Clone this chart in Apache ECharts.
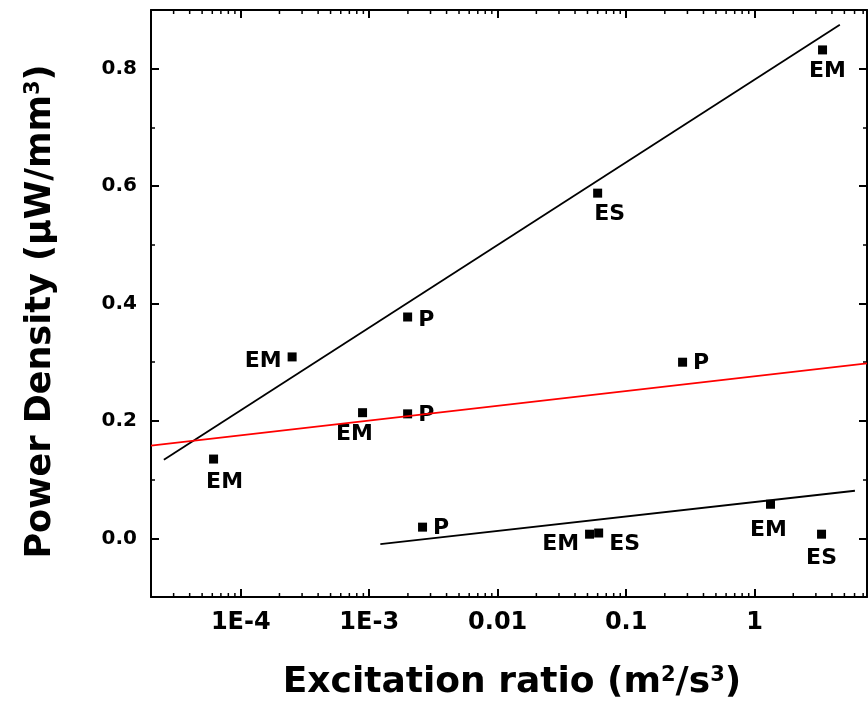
<!DOCTYPE html>
<html>
<head>
<meta charset="utf-8">
<script src="https://cdn.jsdelivr.net/npm/echarts@6/dist/echarts.min.js"></script>
<style>
  html, body { margin: 0; background: #fff; }
  #main { width: 868px; height: 706px; }
</style>
</head>
<body>
<div id="main"></div>
<script>
// measured points: excitation ratio, power density, tag
const ptX = [6.14e-5, 2.51e-4, 8.87e-4, 1.99e-3, 1.99e-3, 2.6e-3, 0.275, 0.06, 3.38, 0.0519, 0.0611, 1.33, 3.32];
const ptY = [0.135, 0.309, 0.214, 0.377, 0.212, 0.019, 0.300, 0.588, 0.832, 0.007, 0.009, 0.058, 0.007];
const ptTag = ['EM', 'EM', 'EM', 'P', 'P', 'P', 'P', 'ES', 'EM', 'EM', 'ES', 'EM', 'ES'];

// fitted lines (two ends each)
const upperLine = [[2.52e-5, 0.134], [4.61, 0.875]];
const redLine = [[2e-5, 0.158], [7.5, 0.298]];
const lowerLine = [[1.22e-3, -0.010], [6.04, 0.081]];

const xTickValues = [1e-4, 1e-3, 0.01, 0.1, 1];
const xTickLabels = ['1E-4', '1E-3', '0.01', '0.1', '1'];

const X_MIN = 2e-5, X_MAX = 7.5;
const Y_MIN = -0.1, Y_MAX = 0.9;

// where each tag sits next to its point
const tagPlace = [
  ['bottom', [11, 2]], ['left', [0, 4]], ['bottom', [-8, 0]], ['right', [0, 3]],
  ['right', [0, 1]], ['right', [0, 1]], ['right', [0, 1]], ['bottom', [12, 0]],
  ['bottom', [5, 0]], ['left', [0, 10]], ['right', [0, 11]], ['bottom', [-2, 5]],
  ['bottom', [0, 3]]
];

// log minor ticks 2..9 per decade
const xMinor = [];
for (let k = -5; k <= 0; k++) {
  for (let m = 2; m <= 9; m++) {
    const v = m * Math.pow(10, k);
    if (v > X_MIN && v < X_MAX) xMinor.push(v);
  }
}

const FONT = 'DejaVu Sans';
const black = '#000';

function xLabel(v) {
  for (let i = 0; i < xTickValues.length; i++) {
    if (Math.abs(Math.log10(v) - Math.log10(xTickValues[i])) < 1e-6) return xTickLabels[i];
  }
  return '';
}

const points = ptX.map((x, i) => ({
  value: [x, ptY[i]],
  label: {
    show: true,
    formatter: ptTag[i],
    position: tagPlace[i][0],
    offset: tagPlace[i][1],
    distance: 6,
    fontFamily: FONT,
    fontWeight: 'bold',
    fontSize: 22,
    color: black
  }
}));

const axisLine = { show: true, onZero: false, lineStyle: { color: black, width: 2 } };
const supStyle = { fontFamily: FONT, fontWeight: 'bold', fontSize: 21, color: black, verticalAlign: 'top' };

let myChart = echarts.init(document.getElementById('main'));
myChart.setOption({
  animation: false,
  backgroundColor: '#fff',
  grid: { left: 151, right: 1, top: 10, bottom: 109, containLabel: false, outerBoundsMode: 'none' },
  xAxis: [
    {
      type: 'log',
      logBase: 10,
      min: X_MIN,
      max: X_MAX,
      position: 'bottom',
      name: 'Excitation ratio (m{sup|2}/s{sup|3})',
      nameLocation: 'middle',
      nameGap: 68,
      nameTextStyle: {
        fontFamily: FONT, fontWeight: 'bold', fontSize: 36, color: black,
        padding: [0, 0, 0, 6],
        rich: { sup: supStyle }
      },
      axisLine: axisLine,
      axisTick: { inside: true, length: 8, lineStyle: { color: black, width: 2 } },
      splitLine: { show: false },
      axisLabel: {
        showMinLabel: false, showMaxLabel: false,
        formatter: xLabel,
        margin: 14,
        fontFamily: FONT, fontWeight: 'bold', fontSize: 24, color: black
      }
    },
    {
      type: 'log',
      logBase: 10,
      min: X_MIN,
      max: X_MAX,
      position: 'top',
      axisLine: axisLine,
      axisTick: { inside: true, length: 8, lineStyle: { color: black, width: 2 } },
      splitLine: { show: false },
      axisLabel: { show: false }
    }
  ],
  yAxis: [
    {
      type: 'value',
      min: Y_MIN,
      max: Y_MAX,
      splitNumber: 5,
      position: 'left',
      name: 'Power Density (µW/mm{sup|3})',
      nameLocation: 'middle',
      nameGap: 93,
      nameTextStyle: {
        fontFamily: FONT, fontWeight: 'bold', fontSize: 35, color: black,
        padding: [0, 16, 0, 0],
        rich: { sup: supStyle }
      },
      axisLine: axisLine,
      axisTick: { inside: true, length: 8, lineStyle: { color: black, width: 2 } },
      minorTick: { show: true, splitNumber: 2, length: 4, lineStyle: { color: black, width: 1.5 } },
      splitLine: { show: false },
      axisLabel: {
        showMinLabel: false, showMaxLabel: false,
        formatter: v => v.toFixed(1),
        margin: 14,
        fontFamily: FONT, fontWeight: 'bold', fontSize: 20, color: black
      }
    },
    {
      type: 'value',
      min: Y_MIN,
      max: Y_MAX,
      splitNumber: 5,
      position: 'right',
      axisLine: axisLine,
      axisTick: { inside: true, length: 8, lineStyle: { color: black, width: 2 } },
      minorTick: { show: true, splitNumber: 2, length: 4, lineStyle: { color: black, width: 1.5 } },
      splitLine: { show: false },
      axisLabel: { show: false }
    }
  ],
  series: [
    {
      type: 'custom',
      silent: true,
      clip: false,
      data: xMinor.map(v => [v, Y_MIN]),
      renderItem: (params, api) => {
        const v = api.value(0);
        const b = api.coord([v, Y_MIN]);
        const t = api.coord([v, Y_MAX]);
        const st = { stroke: black, lineWidth: 1.5 };
        return {
          type: 'group',
          children: [
            { type: 'line', shape: { x1: b[0], y1: b[1], x2: b[0], y2: b[1] - 4 }, style: st },
            { type: 'line', shape: { x1: t[0], y1: t[1], x2: t[0], y2: t[1] + 4 }, style: st }
          ]
        };
      }
    },
    {
      type: 'line', data: upperLine, symbol: 'none', silent: true,
      lineStyle: { color: black, width: 1.8 }
    },
    {
      type: 'line', data: redLine, symbol: 'none', silent: true,
      lineStyle: { color: '#ff0000', width: 1.8 }
    },
    {
      type: 'line', data: lowerLine, symbol: 'none', silent: true,
      lineStyle: { color: black, width: 1.8 }
    },
    {
      type: 'scatter', data: points, symbol: 'rect', symbolSize: 9,
      itemStyle: { color: black, opacity: 1 }
    }
  ]
});
</script>
</body>
</html>
